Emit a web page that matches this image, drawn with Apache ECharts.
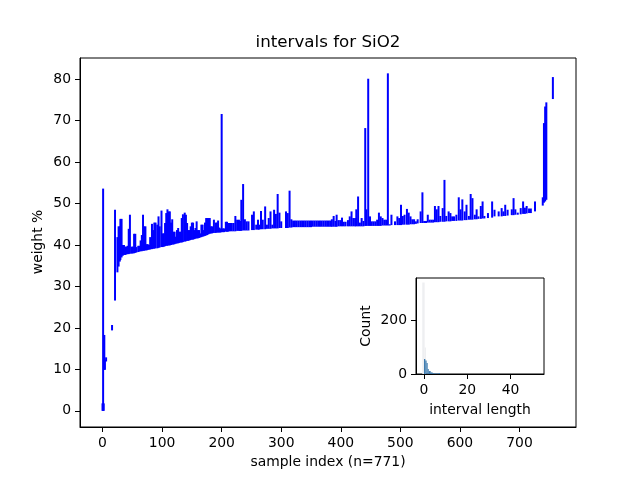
<!DOCTYPE html>
<html>
<head>
<meta charset="utf-8">
<title>intervals for SiO2</title>
<script src="https://cdn.jsdelivr.net/npm/echarts@6.0.0/dist/echarts.min.js"></script>
<style>
html, body { margin: 0; padding: 0; background: #fff; }
#chart { width: 640px; height: 480px; }
</style>
</head>
<body>
<div id="chart"></div>
<script>
// sample index of each interval
var sampleIdx = [0, 1, 2, 3, 4, 6, 16, 21,
  25, 27, 29, 30, 32, 34, 36, 38, 40, 42, 44, 46, 49, 51, 53, 55, 57, 60, 62, 64, 66, 68, 70, 72, 74, 76, 78, 80,
  83, 85, 87, 89, 92, 94, 96, 99, 101, 103, 105, 107, 109, 111, 113, 115, 117, 119, 121, 123, 125, 127, 129, 131,
  133, 135, 138, 140, 142, 144, 146, 148, 150, 152, 154, 156, 158, 160, 162, 164, 166, 168, 170, 172, 174, 176,
  178, 180, 182, 184, 187, 190, 192, 194, 196, 198, 200, 202, 204, 207, 209, 211, 214, 217, 220, 223, 226, 229,
  231, 233, 236, 239, 242, 245, 251, 254, 258, 261, 263, 266, 269, 273, 276, 279, 282, 285, 288, 291, 294, 297,
  300, 308, 311, 314, 317, 320, 323, 326, 329, 332, 335, 338, 341, 344, 347, 350, 353, 356, 359, 362, 365, 368,
  371, 374, 377, 380, 383, 385, 388, 391, 393, 396, 399, 402, 405, 408, 412, 415, 418, 421, 424, 426, 429, 432,
  435, 438, 441, 443, 446, 449, 452, 455, 458, 461, 464, 467, 470, 473, 476, 479, 482, 485, 491, 495, 498, 501,
  504, 507, 511, 514, 517, 520, 523, 526, 529, 534, 537, 540, 543, 546, 549, 552, 555, 558, 561, 564, 567, 571,
  574, 577, 581, 584, 587, 590, 594, 598, 601, 604, 608, 611, 615, 618, 621, 625, 628, 631, 635, 638, 641, 647,
  654, 658, 665, 670, 673, 676, 680, 687, 690, 693, 697, 702, 706, 709, 712, 716, 719, 726, 739, 741, 743, 745,
  756];

// lower end of each interval, weight %
var lowWt = [0, 0, 0, 9.9, 9.9, 11.9, 19.4, 26.6,
  33.4, 34.8, 36.0, 36.4, 37.0, 37.4, 37.6, 37.6, 37.7, 37.8, 37.8, 37.9, 37.9, 38.0, 38.0, 38.1, 38.2, 38.3, 38.4, 38.5, 38.5, 38.6, 38.6, 38.7, 38.7, 38.8, 38.9, 38.9,
  39.0, 39.1, 39.1, 39.2, 39.2, 39.3, 39.4, 39.5, 39.5, 39.6, 39.7, 39.8, 39.8, 39.9, 39.9, 40.0, 40.1, 40.1, 40.2, 40.3, 40.4, 40.4, 40.5, 40.6,
  40.6, 40.7, 40.8, 40.9, 41.0, 41.0, 41.1, 41.2, 41.3, 41.3, 41.4, 41.5, 41.6, 41.6, 41.7, 41.8, 41.9, 42.0, 42.1, 42.2, 42.3, 42.4,
  42.6, 42.7, 42.8, 42.8, 42.9, 42.9, 43.0, 43.0, 43.0, 43.0, 43.1, 43.1, 43.1, 43.2, 43.2, 43.2, 43.3, 43.3, 43.3, 43.3, 43.4, 43.4,
  43.4, 43.4, 43.5, 43.5, 43.5, 43.5, 43.6, 43.6, 43.7, 43.7, 43.7, 43.8, 43.8, 43.8, 43.9, 43.9, 43.9, 44.0, 44.0, 44.0, 44.0, 44.1,
  44.1, 44.1, 44.1, 44.2, 44.2, 44.3, 44.3, 44.3, 44.3, 44.3, 44.3, 44.3, 44.3, 44.3, 44.3, 44.3, 44.4, 44.4, 44.4, 44.4, 44.4, 44.4,
  44.4, 44.4, 44.4, 44.4, 44.4, 44.4, 44.4, 44.4, 44.4, 44.5, 44.5, 44.5, 44.5, 44.5, 44.5, 44.5, 44.5, 44.5, 44.5, 44.5, 44.5, 44.5,
  44.5, 44.5, 44.6, 44.6, 44.6, 44.6, 44.6, 44.6, 44.6, 44.6, 44.6, 44.6, 44.7, 44.7, 44.7, 44.7, 44.7, 44.8, 44.8, 44.8, 44.8, 44.8,
  44.9, 44.9, 44.9, 44.9, 45.0, 45.0, 45.0, 45.1, 45.2, 45.3, 45.3, 45.3, 45.3, 45.4, 45.4, 45.4, 45.4, 45.5, 45.5, 45.5, 45.6, 45.6,
  45.6, 45.7, 45.7, 45.7, 45.8, 45.8, 45.8, 45.9, 45.9, 45.9, 46.0, 46.0, 46.1, 46.1, 46.1, 46.2, 46.2, 46.3, 46.3, 46.4, 46.4, 46.5,
  46.6, 46.9, 46.9, 46.9, 47.0, 47.0, 47.1, 47.2, 47.2, 47.3, 47.3, 47.4, 47.5, 47.5, 47.6, 47.7, 47.7, 48.1, 49.5, 50.2, 50.5, 50.9,
  75.2];

// upper end of each interval, weight %
var highWt = [1.8, 53.6, 1.8, 18.3, 12.3, 12.9, 20.7, 48.5,
  41.9, 44.5, 44.5, 46.3, 46.3, 40.0, 40.0, 39.6, 39.6, 39.8, 43.9, 47.3, 39.6, 39.6, 42.7, 42.7, 39.5, 39.8, 39.8, 41.1, 42.4, 47.3, 44.5, 44.5, 40.2, 40.2, 40.0, 41.9,
  45.1, 43.6, 45.4, 45.4, 44.9, 46.9, 44.5, 48.3, 42.8, 42.8, 45.3, 47.7, 48.6, 48.1, 48.1, 45.4, 46.2, 43.2, 43.2, 42.0, 43.6, 44.1, 43.2, 43.2,
  46.5, 47.4, 47.8, 47.3, 45.3, 43.6, 43.6, 44.5, 45.4, 45.4, 43.6, 44.1, 45.7, 43.6, 43.6, 42.8, 44.9, 44.9, 43.6, 45.4, 46.5, 46.5,
  46.5, 46.5, 44.5, 44.5, 46.1, 45.4, 45.4, 45.9, 44.2, 44.0, 71.6, 44.0, 44.0, 45.6, 45.6, 45.3, 45.3, 45.3, 45.3, 47.0, 46.1, 46.1,
  45.8, 50.9, 54.7, 46.2, 45.7, 45.7, 47.3, 48.1, 44.9, 46.1, 44.9, 48.2, 46.1, 49.3, 44.9, 46.5, 48.1, 44.9, 48.5, 47.5, 52.3, 47.8,
  45.7, 48.1, 47.7, 53.1, 46.2, 45.9, 45.9, 45.9, 45.9, 45.9, 45.9, 45.9, 45.9, 45.9, 45.9, 45.9, 45.9, 45.9, 45.9, 45.9, 45.9, 45.9,
  45.9, 45.9, 45.9, 45.9, 45.9, 46.2, 47.0, 45.8, 47.3, 46.0, 46.0, 46.6, 45.6, 45.6, 46.0, 46.9, 48.1, 46.5, 46.5, 48.6, 51.7, 45.4,
  46.5, 45.8, 68.2, 48.6, 80.1, 46.9, 45.7, 45.7, 45.7, 46.1, 47.8, 46.9, 46.5, 46.1, 46.1, 81.4, 45.0, 47.3, 45.7, 46.9, 46.5, 49.7,
  47.0, 47.3, 48.7, 47.8, 46.9, 46.2, 46.2, 45.7, 46.2, 48.1, 52.7, 45.8, 45.8, 47.3, 46.1, 46.1, 46.1, 49.4, 48.6, 49.4, 47.0, 48.9,
  55.7, 47.0, 48.1, 47.7, 46.9, 46.9, 47.3, 51.5, 48.6, 51.0, 48.1, 49.7, 47.0, 52.3, 51.3, 47.3, 48.6, 46.9, 49.4, 50.5, 47.0, 47.7,
  50.5, 48.5, 48.1, 48.9, 48.1, 49.7, 48.5, 48.6, 51.3, 48.6, 47.8, 48.9, 50.5, 49.0, 49.4, 48.8, 48.8, 50.5, 51.5, 69.4, 73.4, 74.4,
  80.5];

var weightTicks = [0, 10, 20, 30, 40, 50, 60, 70, 80];
var indexTicks = [0, 100, 200, 300, 400, 500, 600, 700];

// inset: histogram of interval length (upper - lower)
// the two crowded bins near zero look washed out in the original
var crowdBinStart = [-0.8, 0.3];
var crowdBinEnd = [0.3, 0.9];
var crowdBinCount = [341, 99];
var histBinStart = [0.0, 0.6, 1.2, 1.7, 2.2, 3.1, 4.0, 4.9, 6.9];
var histBinEnd = [0.6, 1.2, 1.7, 2.2, 3.1, 4.0, 4.9, 6.9, 7.4];
var histCount = [56, 50, 41, 19, 11, 6, 3, 2, 4];
var lengthTicks = [0, 20, 40];
var countTicks = [0, 200];

(function(){
    var myChart = echarts.init(document.getElementById('chart'));
    var font = 'DejaVu Sans';

    var intervals = sampleIdx.map(function(x, i){
        return [x, lowWt[i], highWt[i]];
    });
    var crowdBins = crowdBinStart.map(function(s, i){
        return [s, crowdBinEnd[i], crowdBinCount[i]];
    });
    var histBins = histBinStart.map(function(s, i){
        return [s, histBinEnd[i], histCount[i]];
    });

    //vertical line from lower to upper end
    function renderInterval(params, api){
        var a = api.coord([api.value(0), api.value(1)]);
        var b = api.coord([api.value(0), api.value(2)]);
        return {
            type: 'line',
            shape: {x1: a[0], y1: a[1], x2: b[0], y2: b[1]},
            style: {stroke: '#0000ff', lineWidth: 2}
        };
    }
    function binRenderer(fill){
        return function(params, api){
            var a = api.coord([api.value(0), api.value(2)]);
            var b = api.coord([api.value(1), 0]);
            return {
                type: 'rect',
                shape: {x: a[0], y: a[1], width: b[0] - a[0], height: b[1] - a[1]},
                style: {fill: fill}
            };
        };
    }

    function valueAxis(grid, min, max, ticks, extra){
        var ax = {
            type: 'value',
            gridIndex: grid,
            min: min,
            max: max,
            axisLine: {show: true, onZero: false, lineStyle: {color: '#000', width: 1}},
            axisTick: {show: true, length: 5, customValues: ticks, lineStyle: {color: '#000', width: 1}},
            axisLabel: {customValues: ticks, color: '#000', fontSize: 13.9, fontFamily: font, margin: 9},
            splitLine: {show: false}
        };
        for (var k in extra) ax[k] = extra[k];
        return ax;
    }

    var option = {
        animation: false,
        grid: [
            {left: 80, top: 58, width: 496, height: 369, show: true, borderColor: '#000', borderWidth: 1},
            {left: 416, top: 278, width: 128, height: 96, show: true, borderColor: '#000', borderWidth: 1, backgroundColor: '#fff'}
        ],
        xAxis: [
            valueAxis(0, -37.8, 794.8, indexTicks, {}),
            valueAxis(1, -3.7, 55.5, lengthTicks, {})
        ],
        yAxis: [
            valueAxis(0, -3.9, 85.1, weightTicks, {}),
            valueAxis(1, 0, 357.8, countTicks, {})
        ],
        graphic: [
            {type: 'text', x: 328, y: 43, style: {text: 'intervals for SiO2', font: '16.7px "DejaVu Sans"', fill: '#000', align: 'center', verticalAlign: 'middle'}},
            {type: 'text', x: 328, y: 462, style: {text: 'sample index (n=771)', font: '13.9px "DejaVu Sans"', fill: '#000', align: 'center', verticalAlign: 'middle'}},
            {type: 'text', x: 38, y: 242, rotation: Math.PI / 2, style: {text: 'weight %', font: '13.9px "DejaVu Sans"', fill: '#000', align: 'center', verticalAlign: 'middle'}},
            {type: 'text', x: 366, y: 326, rotation: Math.PI / 2, z: 10, style: {text: 'Count', font: '13.9px "DejaVu Sans"', fill: '#000', align: 'center', verticalAlign: 'middle'}},
            {type: 'text', x: 480, y: 410, z: 10, style: {text: 'interval length', font: '13.9px "DejaVu Sans"', fill: '#000', align: 'center', verticalAlign: 'middle'}}
        ],
        series: [
            {
                type: 'custom',
                xAxisIndex: 0,
                yAxisIndex: 0,
                renderItem: renderInterval,
                encode: {x: 0, y: [1, 2]},
                data: intervals
            },
            {
                type: 'custom',
                xAxisIndex: 1,
                yAxisIndex: 1,
                renderItem: binRenderer('#eeeff1'),
                encode: {x: [0, 1], y: 2},
                data: crowdBins,
                z: 5
            },
            {
                type: 'custom',
                xAxisIndex: 1,
                yAxisIndex: 1,
                renderItem: binRenderer('#3f7cb0'),
                encode: {x: [0, 1], y: 2},
                data: histBins,
                z: 6
            }
        ]
    };

    myChart.setOption(option);

    window.addEventListener('resize', function(){
        myChart.resize();
    });
})();
</script>
</body>
</html>
